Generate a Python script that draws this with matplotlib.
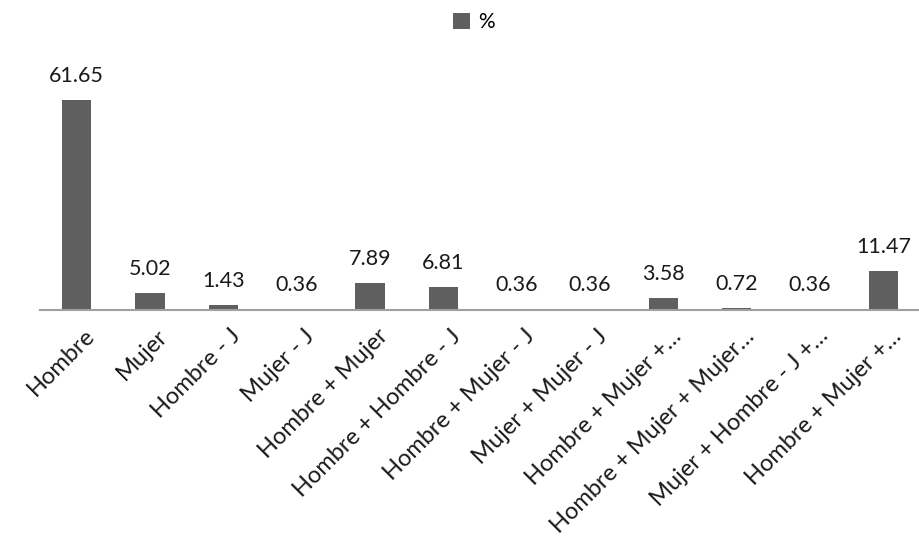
import matplotlib
matplotlib.use("Agg")
import matplotlib.pyplot as plt
from matplotlib.transforms import ScaledTranslation

categories = [
    "Hombre", "Mujer", "Hombre - J", "Mujer - J", "Hombre + Mujer",
    "Hombre + Hombre - J", "Hombre + Mujer - J", "Mujer + Mujer - J",
    "Hombre + Mujer +…", "Hombre + Mujer + Mujer…", "Mujer + Hombre - J +…",
    "Hombre + Mujer +…",
]
values = [61.65, 5.02, 1.43, 0.36, 7.89, 6.81, 0.36, 0.36, 3.58, 0.72, 0.36, 11.47]
series_name = "%"

plt.rcParams["font.family"] = ["Lato", "DejaVu Sans"]

fig = plt.figure(figsize=(9.2, 5.37), dpi=100)
ax = fig.add_axes([40 / 920, (537 - 310) / 537, 880 / 920, 250 / 537])

x = list(range(len(categories)))
bars = ax.bar(x, values, width=0.4, color="#5f5f5f", label=series_name, zorder=2)

for xi, v in zip(x, values):
    ax.annotate(f"{v:.2f}", (xi, v), xytext=(0, 10), textcoords="offset points",
                ha="center", va="bottom", fontsize=15.5, color="#1a1a1a")

ax.set_xlim(-0.5, len(categories) - 0.5)
ax.set_ylim(0, 73.4)
ax.set_yticks([])
for side in ("top", "right", "left"):
    ax.spines[side].set_visible(False)
ax.spines["bottom"].set_color("#a0a0a0")
ax.spines["bottom"].set_linewidth(1.5)

ax.set_xticks(x)
ax.set_xticklabels(categories, rotation=45, ha="right", rotation_mode="anchor",
                   fontsize=17, color="#1a1a1a")
ax.tick_params(axis="x", length=0, pad=11)
shift = ScaledTranslation(7 / 100, 0, fig.dpi_scale_trans)
for lbl in ax.get_xticklabels():
    lbl.set_transform(lbl.get_transform() + shift)

fig.legend(handles=[bars], labels=[series_name], loc="upper center",
           bbox_to_anchor=(0.515, 1.012), frameon=False, fontsize=15,
           handlelength=0.8, handleheight=0.8, handletextpad=0.4)

fig.savefig("out.png", dpi=100)
